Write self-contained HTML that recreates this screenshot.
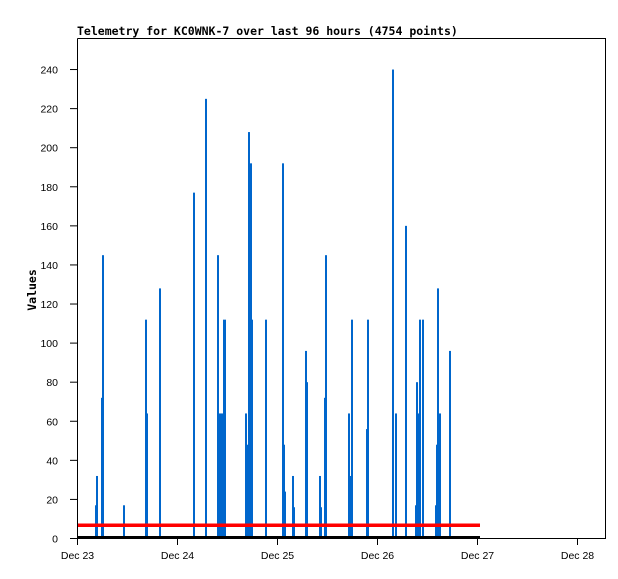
<!DOCTYPE html>
<html><head><meta charset="utf-8"><style>
html,body{margin:0;padding:0;background:#fff;}
svg{display:block;font-family:"DejaVu Sans Mono","Liberation Mono",monospace;}
</style></head><body>
<svg width="618" height="579" viewBox="0 0 618 579" xmlns="http://www.w3.org/2000/svg">
<rect width="618" height="579" fill="#fff"/>
<text x="77" y="35" font-size="11.5" font-weight="bold" fill="#000">Telemetry for KC0WNK-7 over last 96 hours (4754 points)</text>
<text x="0" y="0" font-size="11.5" font-weight="bold" transform="translate(36,290) rotate(-90)" text-anchor="middle">Values</text>
<g fill="#0066cc" id="bars"></g>
<rect x="77" y="523.5" width="403" height="3.5" fill="#ff0000"/>
<rect x="77" y="536" width="403" height="2.5" fill="#000"/>
<g id="axes" stroke="#000" fill="none" stroke-width="1">
<polyline points="77.5,38.5 605.5,38.5 605.5,538.5 77.5,538.5 77.5,38.5"/>
</g>
<g id="ticks" stroke="#000"></g>
<g id="labels" font-size="10.5" fill="#000" font-family="Liberation Sans, sans-serif"></g>
<script>
var ns="http://www.w3.org/2000/svg";
function el(t,a,p,txt){var e=document.createElementNS(ns,t);for(var k in a)e.setAttribute(k,a[k]);if(txt)e.textContent=txt;document.getElementById(p).appendChild(e);}
var Y=function(v){return 538.5-v*1.954;};
for(var v=0;v<=240;v+=20){el('line',{x1:70,x2:77,y1:Y(v),y2:Y(v)},'ticks');el('text',{x:58,y:Y(v)+4,'text-anchor':'end'},'labels',String(v));}
var d=['Dec 23','Dec 24','Dec 25','Dec 26','Dec 27','Dec 28'];
for(var i=0;i<6;i++){var x=77.5+i*100;el('line',{x1:x,x2:x,y1:538,y2:545},'ticks');el('text',{x:x,y:559,'text-anchor':'middle'},'labels',d[i]);}
var b=[[95,2,17],[96,2,32],[101,2,72],[102,2,145],[123,2,17],[145,2,112],[146,2,64],[159,2,128],[193,2,177],[205,2,225],[217,2,145],[218,6,64],[223,3,112],[245,2,64],[246,2,48],[248,2,208],[249,2,24],[250,2,192],[251,2,112],[265,2,112],[282,2,192],[283,2,48],[284,2,24],[292,2,32],[293,2,16],[305,2,96],[306,2,80],[319,2,32],[320,2,16],[324,2,72],[325,2,145],[348,2,64],[350,2,32],[351,2,112],[366,2,56],[367,2,112],[392,2,240],[395,2,64],[405,2,160],[415,2,17],[416,2,80],[417,2,64],[419,2,112],[422,2,112],[435,2,17],[436,2,48],[437,2,128],[439,2,64],[449,2,96]];
b.sort(function(a,c){return c[2]-a[2];});
b.forEach(function(q){el('rect',{x:q[0],y:Y(q[2]),width:q[1],height:q[2]*1.954},'bars');});
</script>
</svg>
</body></html>
